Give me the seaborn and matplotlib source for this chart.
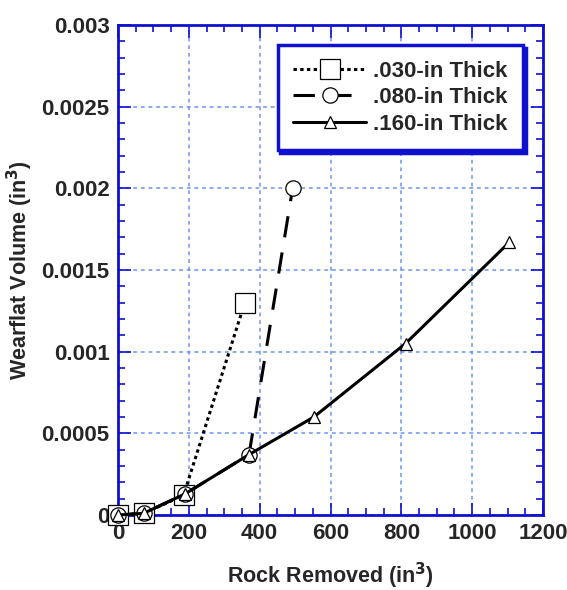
import numpy as np
import pandas as pd
import seaborn as sns
import matplotlib
matplotlib.use("Agg")
import matplotlib.pyplot as plt
from matplotlib.ticker import MultipleLocator, FixedLocator, FixedFormatter

# data
rock_030 = [0, 72, 185, 358]
vol_030 = [0.0, 0.00001, 0.00012, 0.0013]

rock_080 = [0, 72, 190, 370, 493]
vol_080 = [0.0, 0.00001, 0.00013, 0.00037, 0.002]

rock_160 = [0, 72, 190, 370, 553, 812, 1105]
vol_160 = [0.0, 0.00001, 0.00013, 0.00037, 0.0006, 0.00105, 0.00167]

series_names = [".030-in Thick", ".080-in Thick", ".160-in Thick"]
y_ticks = [0, 0.0005, 0.001, 0.0015, 0.002, 0.0025, 0.003]
y_labels = ["0", "0.0005", "0.001", "0.0015", "0.002", "0.0025", "0.003"]
x_ticks = [0, 200, 400, 600, 800, 1000, 1200]

sns.set_style("white")
plt.rcParams['font.family'] = ['Liberation Sans', 'DejaVu Sans']
plt.rcParams['font.weight'] = 'bold'
plt.rcParams['mathtext.default'] = 'bf'

blue = '#1010d0'
grid_blue = '#6b93ee'
fs = 16

fig = plt.figure(figsize=(5.67, 5.90), dpi=100)
ax = fig.add_axes([118 / 567, 1 - 515 / 590, (543 - 118) / 567, (515 - 25) / 590])

df = pd.concat([
    pd.DataFrame({"rock": rock_030, "vol": vol_030, "s": series_names[0]}),
    pd.DataFrame({"rock": rock_080, "vol": vol_080, "s": series_names[1]}),
    pd.DataFrame({"rock": rock_160, "vol": vol_160, "s": series_names[2]}),
])

styles = {
    series_names[0]: dict(ls=(0, (1.1, 1.1)), marker='s', ms=14),
    series_names[1]: dict(ls=(0, (7, 5)), marker='o', ms=11),
    series_names[2]: dict(ls='-', marker='^', ms=8),
}

for i, name in enumerate(series_names):
    sub = df[df["s"] == name]
    st = styles[name]
    sns.lineplot(data=sub, x="rock", y="vol", ax=ax, color='black', lw=2.2,
                 linestyle=st['ls'], marker=st['marker'], markersize=st['ms'],
                 markerfacecolor='white', markeredgecolor='black', markeredgewidth=0.9,
                 label=name, zorder=3 + i, clip_on=False)

ax.set_xlim(0, 1200)
ax.set_ylim(0, 0.003)
ax.xaxis.set_major_locator(FixedLocator(x_ticks))
ax.xaxis.set_minor_locator(MultipleLocator(50))
ax.yaxis.set_major_locator(FixedLocator(y_ticks))
ax.yaxis.set_major_formatter(FixedFormatter(y_labels))
ax.yaxis.set_minor_locator(MultipleLocator(0.0001))

ax.grid(True, which='major', color=grid_blue, ls=(0, (2.5, 2.5)), lw=1.1)
for sp in ax.spines.values():
    sp.set_color(blue)
    sp.set_linewidth(2)
    sp.set_visible(True)

ax.tick_params(which='both', direction='in', color=blue, top=True, right=True,
               bottom=True, left=True, labelsize=fs)
ax.tick_params(which='major', length=9, width=1.2)
ax.tick_params(which='minor', length=5, width=1.2)
ax.tick_params(axis='x', which='major', pad=6)
ax.tick_params(axis='y', which='major', pad=6)
for lab in ax.get_xticklabels() + ax.get_yticklabels():
    lab.set_fontweight('bold')

ax.set_xlabel(r"Rock Removed (in$^{3}$)", fontsize=15.5, fontweight='bold', labelpad=12)
ax.set_ylabel(r"Wearflat Volume (in$^{3}$)", fontsize=15.5, fontweight='bold', labelpad=5)

leg = ax.legend(loc='upper right', bbox_to_anchor=(0.953, 0.959), frameon=True, fancybox=False,
                shadow={'color': blue, 'alpha': 1}, prop={'weight': 'bold', 'size': fs},
                handlelength=3.3, handletextpad=0.3, borderpad=0.7, labelspacing=0.25,
                borderaxespad=0)
leg.get_frame().set_edgecolor(blue)
leg.get_frame().set_linewidth(2.5)
leg.set_zorder(10)

fig.savefig("out.png", dpi=100)
